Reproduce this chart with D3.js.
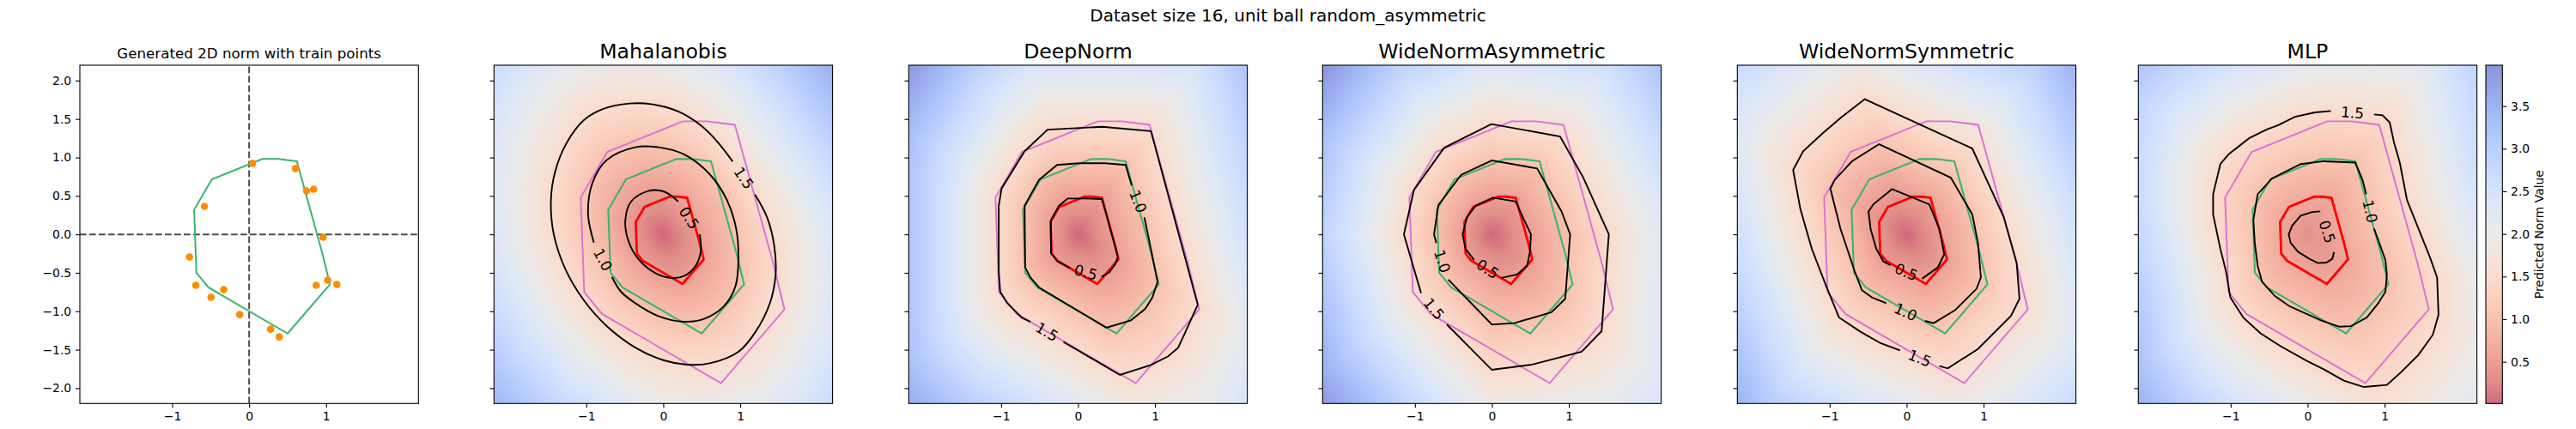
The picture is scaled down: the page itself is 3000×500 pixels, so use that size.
<!DOCTYPE html>
<html>
<head>
<meta charset="utf-8">
<script src="https://cdn.jsdelivr.net/npm/d3@7"></script>
<style>
body { margin: 0; background: #fff; }
text { font-family: "DejaVu Sans", sans-serif; }
</style>
</head>
<body>
<div id="chart"></div>
<script>
// ---- data ----
var suptitle = "Dataset size 16, unit ball random_asymmetric";
var firstTitle = "Generated 2D norm with train points";
var modelNames = ["Mahalanobis", "DeepNorm", "WideNormAsymmetric", "WideNormSymmetric", "MLP"];
var levels = [0.5, 1.0, 1.5];
var xTicks = [-1, 0, 1];
var yTicks = [-2, -1.5, -1, -0.5, 0, 0.5, 1, 1.5, 2];
var cbarTicks = [0.5, 1, 1.5, 2, 2.5, 3, 3.5];
var cbarRange = [0.01, 3.98];
var axisRange = [-2.2, 2.2];

// true unit ball (vertices of the generated norm)
var trueBall = [[0.17,0.98],[0.38,0.98],[0.62,0.95],[0.95,-0.24],[1.05,-0.65],[0.5,-1.29],
  [-0.53,-0.69],[-0.685,-0.5],[-0.715,0.32],[-0.485,0.715]];

// train points
var trainX = [0.045,0.603,0.745,0.838,-0.581,0.961,-0.775,-0.693,1.02,1.14,0.872,-0.331,-0.495,-0.123,0.279,0.391];
var trainY = [0.924,0.857,0.566,0.588,0.365,-0.037,-0.294,-0.663,-0.596,-0.652,-0.663,-0.719,-0.819,-1.043,-1.233,-1.333];

// learned contours: open polylines, the two ends are the edges of the label gap
var mahal05 = [[0.474,0.0],[0.486,-0.225],[0.419,-0.411],[0.27,-0.541],[0.121,-0.567],[-0.102,-0.504],[-0.326,-0.318],
  [-0.456,-0.076],[-0.493,0.184],[-0.419,0.426],[-0.195,0.564],[0.009,0.557],[0.195,0.427]];
var mahal10 = [[-0.902,-0.106],[-0.977,0.259],[-0.921,0.668],[-0.735,0.966],[-0.363,1.133],[-0.065,1.133],[0.27,1.04],
  [0.605,0.78],[0.828,0.445],[0.947,0.073],[0.977,-0.3],[0.939,-0.672],[0.79,-0.932],[0.53,-1.099],[0.27,-1.136],
  [-0.065,-1.062],[-0.363,-0.895],[-0.549,-0.746],[-0.668,-0.553]];
var mahal15 = [[1.192,0.519],[1.349,0.222],[1.442,-0.15],[1.46,-0.522],[1.386,-0.894],[1.2,-1.266],[0.977,-1.527],
  [0.605,-1.676],[0.307,-1.694],[0.009,-1.639],[-0.363,-1.472],[-0.735,-1.192],[-1.032,-0.857],[-1.274,-0.448],
  [-1.423,0.0],[-1.46,0.445],[-1.405,0.817],[-1.256,1.189],[-1.032,1.486],[-0.772,1.635],[-0.437,1.702],
  [-0.14,1.691],[0.195,1.598],[0.493,1.412],[0.716,1.189],[0.902,0.947]];

var deep05 = [[0.306,-0.552],[0.407,-0.493],[0.481,-0.392],[0.519,-0.291],[0.313,0.459],[0.09,0.466],[-0.134,0.466],
  [-0.246,0.373],[-0.351,0.187],[-0.351,-0.243],[-0.265,-0.354],[-0.104,-0.437]];
var deep10 = [[0.862,0.224],[1.034,-0.616],[0.966,-0.821],[0.873,-0.97],[0.687,-1.119],[0.369,-1.213],[-0.507,-0.69],
  [-0.619,-0.56],[-0.687,-0.429],[-0.694,0.373],[-0.507,0.709],[-0.272,0.903],[0.015,0.925],[0.351,0.925],
  [0.619,0.903],[0.698,0.634]];
var deep15 = [[-0.19,-1.399],[0.545,-1.828],[0.948,-1.698],[1.172,-1.586],[1.302,-1.474],[1.396,-1.269],[1.556,-0.914],
  [0.948,1.343],[0.313,1.399],[-0.396,1.362],[-0.694,1.082],[-0.993,0.597],[-1.03,0.373],[-1.03,-0.485],
  [-1.011,-0.746],[-0.918,-0.896],[-0.731,-1.082],[-0.619,-1.138]];

var wna05 = [[0.123,-0.566],[0.328,-0.521],[0.458,-0.41],[0.495,-0.223],[0.507,0],[0.402,0.223],[0.309,0.428],
  [0.011,0.477],[-0.212,0.372],[-0.324,0.223],[-0.38,0],[-0.343,-0.186],[-0.231,-0.335]];
var wna10 = [[-0.566,-0.588],[0,-1.173],[0.29,-1.155],[0.775,-1.013],[0.953,-0.838],[1.017,0],[0.905,0.298],
  [0.588,0.857],[0,0.961],[-0.399,0.775],[-0.696,0.38],[-0.752,0],[-0.723,-0.112]];
var wna15 = [[-0.585,-1.173],[0,-1.762],[0.514,-1.695],[1.166,-1.527],[1.426,-1.259],[1.52,0],[1.184,0.745],
  [0.886,1.274],[-0.007,1.434],[-0.622,1.125],[-1.013,0.577],[-1.143,0],[-1.013,-0.447],[-0.92,-0.764]];

var wns05 = [[0.201,-0.577],[0.406,-0.428],[0.488,-0.261],[0.425,0.074],[0.294,0.391],[-0.19,0.588],[-0.432,0.391],
  [-0.495,0.298],[-0.469,0.074],[-0.395,-0.186],[-0.302,-0.354],[-0.209,-0.402]];
var wns10 = [[0.238,-1.125],[0.35,-1.155],[0.629,-0.987],[0.909,-0.708],[0.965,-0.559],[0.927,-0.112],[0.853,0.261],
  [0.574,0.737],[-0.358,1.173],[-0.711,0.95],[-0.935,0.708],[-0.991,0.596],[-0.86,0.074],[-0.674,-0.484],
  [-0.581,-0.726],[-0.451,-0.819],[-0.264,-0.894]];
var wns15 = [[0.425,-1.713],[0.536,-1.743],[0.927,-1.49],[1.356,-1.061],[1.467,-0.838],[1.43,-0.372],[1.263,0.223],
  [0.853,1.117],[-0.544,1.758],[-0.842,1.527],[-1.084,1.322],[-1.345,1.08],[-1.475,0.838],[-1.382,0.335],
  [-1.233,-0.186],[-1.047,-0.67],[-0.879,-1.08],[-0.6,-1.266],[-0.339,-1.415],[-0.086,-1.508]];

var mlp05 = [[0.164,0.299],[0.06,0.291],[-0.09,0.243],[-0.201,0.112],[-0.246,0],[-0.22,-0.112],[-0.127,-0.224],
  [0.022,-0.317],[0.134,-0.373],[0.246,-0.366],[0.321,-0.317],[0.343,-0.231]];
var mlp10 = [[0.862,0.075],[0.918,-0.075],[1.011,-0.336],[1.03,-0.522],[1.011,-0.746],[0.918,-0.896],[0.769,-1.082],
  [0.563,-1.194],[0.414,-1.201],[0.172,-1.119],[-0.239,-0.933],[-0.425,-0.802],[-0.593,-0.616],[-0.649,-0.41],
  [-0.687,-0.112],[-0.705,0.187],[-0.649,0.522],[-0.463,0.728],[-0.09,0.914],[0.209,0.951],[0.619,0.933],
  [0.713,0.709],[0.761,0.522]];
var mlp15 = [[0.862,1.56],[0.974,1.549],[1.067,1.455],[1.123,1.194],[1.198,0.933],[1.291,0.448],[1.44,0.075],
  [1.59,-0.299],[1.683,-0.56],[1.701,-1.045],[1.627,-1.306],[1.44,-1.567],[1.216,-1.791],[1.03,-1.959],
  [0.731,-1.985],[0.47,-1.903],[0.209,-1.754],[-0.015,-1.642],[-0.351,-1.455],[-0.612,-1.287],[-0.836,-1.082],
  [-1.004,-0.821],[-1.06,-0.485],[-1.134,-0.187],[-1.228,0.257],[-1.228,0.522],[-1.134,0.914],[-1.022,1.045],
  [-0.761,1.25],[-0.537,1.362],[-0.388,1.418],[-0.164,1.53],[0.097,1.586],[0.302,1.604]];

// predicted value at the origin (estimated from the shading)
var centerValues = [0, 0, 0, 0, 0.35];

// coolwarm colormap stops (reversed when used)
var coolwarmStops = [[59,76,192],[77,104,215],[98,130,234],[119,154,247],[141,176,254],[163,194,255],[184,208,249],
  [204,217,238],[221,221,221],[236,211,197],[245,196,172],[247,177,148],[244,154,123],[236,127,99],[222,96,77],
  [203,62,56],[180,4,38]];

var modelContours = [[mahal05, mahal10, mahal15], [deep05, deep10, deep15], [wna05, wna10, wna15],
  [wns05, wns10, wns15], [mlp05, mlp10, mlp15]];
var modelSmooth = [true, false, false, false, false];

// ---- layout ----
var W = 3000, H = 500;
var panelLeft = [93, 575.3, 1058.3, 1540.3, 2023.3, 2490.3];
var top0 = 76, size = 394.3;
var cbar = {x: 2895, w: 19.3};
var heatAlpha = 0.6;
var tickFont = "13.9px";

var svg = d3.select("#chart").append("svg")
  .attr("width", W).attr("height", H).attr("viewBox", "0 0 " + W + " " + H);

svg.append("text").attr("x", 1500).attr("y", 25).attr("text-anchor", "middle")
  .attr("font-size", "20px").text(suptitle);

// colour lookup
var cw = d3.scaleLinear()
  .domain(coolwarmStops.map(function(d, i){ return i / (coolwarmStops.length - 1); }))
  .range(coolwarmStops.map(function(d){ return d3.rgb(d[0], d[1], d[2]); }))
  .clamp(true);
var valueToPos = d3.scaleLinear().domain(cbarRange).range([1, 0]).clamp(true);
var LUTN = 1024, lut = [];
for (var k = 0; k < LUTN; k++) {
  var c = d3.rgb(cw(k / (LUTN - 1)));
  lut.push([c.r * heatAlpha + 255 * (1 - heatAlpha), c.g * heatAlpha + 255 * (1 - heatAlpha), c.b * heatAlpha + 255 * (1 - heatAlpha)]);
}
function shade(v) {
  return lut[Math.round(valueToPos(v) * (LUTN - 1))];
}

// radius of a closed contour along each direction
var NA = 1440;
function radiusTable(poly) {
  var out = new Float64Array(NA), m = poly.length;
  for (var k = 0; k < NA; k++) {
    var a = 2 * Math.PI * k / NA, dx = Math.cos(a), dy = Math.sin(a), best = Infinity;
    for (var i = 0; i < m; i++) {
      var p = poly[i], q = poly[(i + 1) % m];
      var ex = q[0] - p[0], ey = q[1] - p[1];
      var den = ex * dy - dx * ey;
      if (Math.abs(den) < 1e-12) continue;
      var s = (ex * p[1] - p[0] * ey) / den;
      var t = (dx * p[1] - dy * p[0]) / den;
      if (t >= 0 && t <= 1 && s > 0 && s < best) best = s;
    }
    out[k] = best;
  }
  return out;
}

function makeField(contours, v0) {
  var tables = contours.map(radiusTable);
  return function(px, py) {
    var r = Math.hypot(px, py);
    var a = Math.atan2(py, px); if (a < 0) a += 2 * Math.PI;
    var f = a / (2 * Math.PI) * NA, k0 = Math.floor(f) % NA, k1 = (k0 + 1) % NA, w = f - Math.floor(f);
    var prevR = 0, prevV = v0, R;
    for (var i = 0; i < levels.length; i++) {
      R = tables[i][k0] * (1 - w) + tables[i][k1] * w;
      if (r <= R) return prevV + (levels[i] - prevV) * (r - prevR) / (R - prevR);
      prevR = R; prevV = levels[i];
    }
    return levels[levels.length - 1] * r / R;
  };
}

function panelScales(p) {
  var x = d3.scaleLinear().domain(axisRange).range([panelLeft[p], panelLeft[p] + size]);
  var y = d3.scaleLinear().domain(axisRange).range([top0 + size, top0]);
  return {x: x, y: y};
}

function drawAxes(g, sc, showY) {
  var ax = g.append("g").attr("transform", "translate(0," + (top0 + size) + ")")
    .call(d3.axisBottom(sc.x).tickValues(xTicks).tickFormat(d3.format("d")).tickSize(4.9).tickPadding(4.9));
  var ay = g.append("g").attr("transform", "translate(" + panelLeft[0] + ",0)");
  ay.attr("transform", "translate(" + sc.x.range()[0] + ",0)")
    .call(d3.axisLeft(sc.y).tickValues(yTicks).tickFormat(showY ? d3.format(".1f") : function(){ return ""; })
      .tickSize(4.9).tickPadding(4.9));
  [ax, ay].forEach(function(a) {
    a.select(".domain").remove();
    a.attr("font-size", tickFont).attr("font-family", "DejaVu Sans, sans-serif");
    a.selectAll(".tick line").attr("stroke", "#000").attr("stroke-width", 1.1);
    a.selectAll(".tick text").attr("fill", "#000");
  });
  g.append("rect").attr("x", sc.x.range()[0]).attr("y", top0).attr("width", size).attr("height", size)
    .attr("fill", "none").attr("stroke", "#000").attr("stroke-width", 1.1);
}

// ---- panel 1: generated norm with train points ----
(function() {
  var sc = panelScales(0);
  var g = svg.append("g");
  g.append("text").attr("x", panelLeft[0] + size / 2).attr("y", 68).attr("text-anchor", "middle")
    .attr("font-size", "16.7px").text(firstTitle);
  g.append("line").attr("x1", sc.x(axisRange[0])).attr("x2", sc.x(axisRange[1])).attr("y1", sc.y(0)).attr("y2", sc.y(0))
    .attr("stroke", "#000").attr("stroke-opacity", 0.7).attr("stroke-width", 2).attr("stroke-dasharray", "7.7,3.3");
  g.append("line").attr("y1", sc.y(axisRange[0])).attr("y2", sc.y(axisRange[1])).attr("x1", sc.x(0)).attr("x2", sc.x(0))
    .attr("stroke", "#000").attr("stroke-opacity", 0.7).attr("stroke-width", 2).attr("stroke-dasharray", "7.7,3.3");
  g.append("path").datum(trueBall)
    .attr("d", d3.line().x(function(d){ return sc.x(d[0]); }).y(function(d){ return sc.y(d[1]); }).curve(d3.curveLinearClosed))
    .attr("fill", "none").attr("stroke", "#3cb371").attr("stroke-width", 2);
  g.selectAll("circle").data(trainX).join("circle")
    .attr("cx", function(d){ return sc.x(d); })
    .attr("cy", function(d, i){ return sc.y(trainY[i]); })
    .attr("r", 4.3).attr("fill", "#ff8c00");
  drawAxes(g, sc, true);
})();

// ---- model panels ----
var ballStyles = [
  {scale: 0.5, color: "#ff0000", width: 2.8},
  {scale: 1.0, color: "#3cb371", width: 2.1},
  {scale: 1.5, color: "#da70d6", width: 1.9}
];

modelNames.forEach(function(name, m) {
  var p = m + 1, sc = panelScales(p);
  var g = svg.append("g");
  g.append("text").attr("x", panelLeft[p] + size / 2).attr("y", 68).attr("text-anchor", "middle")
    .attr("font-size", "23.6px").text(name);

  // heat map
  var field = makeField(modelContours[m], centerValues[m]);
  var n = Math.round(size);
  var canvas = document.createElement("canvas");
  canvas.width = n; canvas.height = n;
  var ctx = canvas.getContext("2d");
  var img = ctx.createImageData(n, n);
  for (var j = 0; j < n; j++) {
    var py = sc.y.invert(top0 + (j + 0.5) * size / n);
    for (var i = 0; i < n; i++) {
      var px = sc.x.invert(panelLeft[p] + (i + 0.5) * size / n);
      var col = shade(field(px, py)), o = (j * n + i) * 4;
      img.data[o] = col[0]; img.data[o + 1] = col[1]; img.data[o + 2] = col[2]; img.data[o + 3] = 255;
    }
  }
  ctx.putImageData(img, 0, 0);
  g.append("image").attr("href", canvas.toDataURL()).attr("x", panelLeft[p]).attr("y", top0)
    .attr("width", size).attr("height", size).attr("preserveAspectRatio", "none");

  // true norm balls
  ballStyles.forEach(function(b) {
    g.append("path").datum(trueBall)
      .attr("d", d3.line().x(function(d){ return sc.x(d[0] * b.scale); }).y(function(d){ return sc.y(d[1] * b.scale); })
        .curve(d3.curveLinearClosed))
      .attr("fill", "none").attr("stroke", b.color).attr("stroke-width", b.width).attr("stroke-linejoin", "miter");
  });

  // learned contours with inline labels
  var line = d3.line().x(function(d){ return sc.x(d[0]); }).y(function(d){ return sc.y(d[1]); })
    .curve(modelSmooth[m] ? d3.curveCatmullRom : d3.curveLinear);
  modelContours[m].forEach(function(pts, li) {
    g.append("path").datum(pts).attr("d", line)
      .attr("fill", "none").attr("stroke", "#000").attr("stroke-width", 1.9);
    var a = pts[0], b = pts[pts.length - 1];
    var ax = sc.x(a[0]), ay = sc.y(a[1]), bx = sc.x(b[0]), by = sc.y(b[1]);
    var ang = Math.atan2(by - ay, bx - ax) * 180 / Math.PI;
    if (ang > 90) ang -= 180;
    if (ang < -90) ang += 180;
    g.append("text")
      .attr("transform", "translate(" + ((ax + bx) / 2) + "," + ((ay + by) / 2) + ") rotate(" + ang + ")")
      .attr("text-anchor", "middle").attr("dominant-baseline", "central")
      .attr("font-size", "17px").text(d3.format(".1f")(levels[li]));
  });

  drawAxes(g, sc, false);
});

// ---- colour bar ----
(function() {
  var yb = d3.scaleLinear().domain(cbarRange).range([top0 + size, top0]);
  var grad = svg.append("defs").append("linearGradient").attr("id", "cbgrad")
    .attr("x1", 0).attr("y1", 1).attr("x2", 0).attr("y2", 0);
  d3.range(0, 1.0001, 1 / 64).forEach(function(t) {
    var v = cbarRange[0] + t * (cbarRange[1] - cbarRange[0]);
    var c = shade(v);
    grad.append("stop").attr("offset", t).attr("stop-color", d3.rgb(c[0], c[1], c[2]).formatHex());
  });
  var g = svg.append("g");
  g.append("rect").attr("x", cbar.x).attr("y", top0).attr("width", cbar.w).attr("height", size)
    .attr("fill", "url(#cbgrad)").attr("stroke", "#000").attr("stroke-width", 1.1);
  var ax = g.append("g").attr("transform", "translate(" + (cbar.x + cbar.w) + ",0)")
    .call(d3.axisRight(yb).tickValues(cbarTicks).tickFormat(d3.format(".1f")).tickSize(4.9).tickPadding(4.9));
  ax.select(".domain").remove();
  ax.attr("font-size", tickFont).attr("font-family", "DejaVu Sans, sans-serif");
  ax.selectAll(".tick line").attr("stroke", "#000").attr("stroke-width", 1.1);
  ax.selectAll(".tick text").attr("fill", "#000");
  g.append("text").attr("transform", "translate(2957," + (top0 + size / 2) + ") rotate(-90)")
    .attr("text-anchor", "middle").attr("dominant-baseline", "central")
    .attr("font-size", tickFont).text("Predicted Norm Value");
})();
</script>
</body>
</html>
